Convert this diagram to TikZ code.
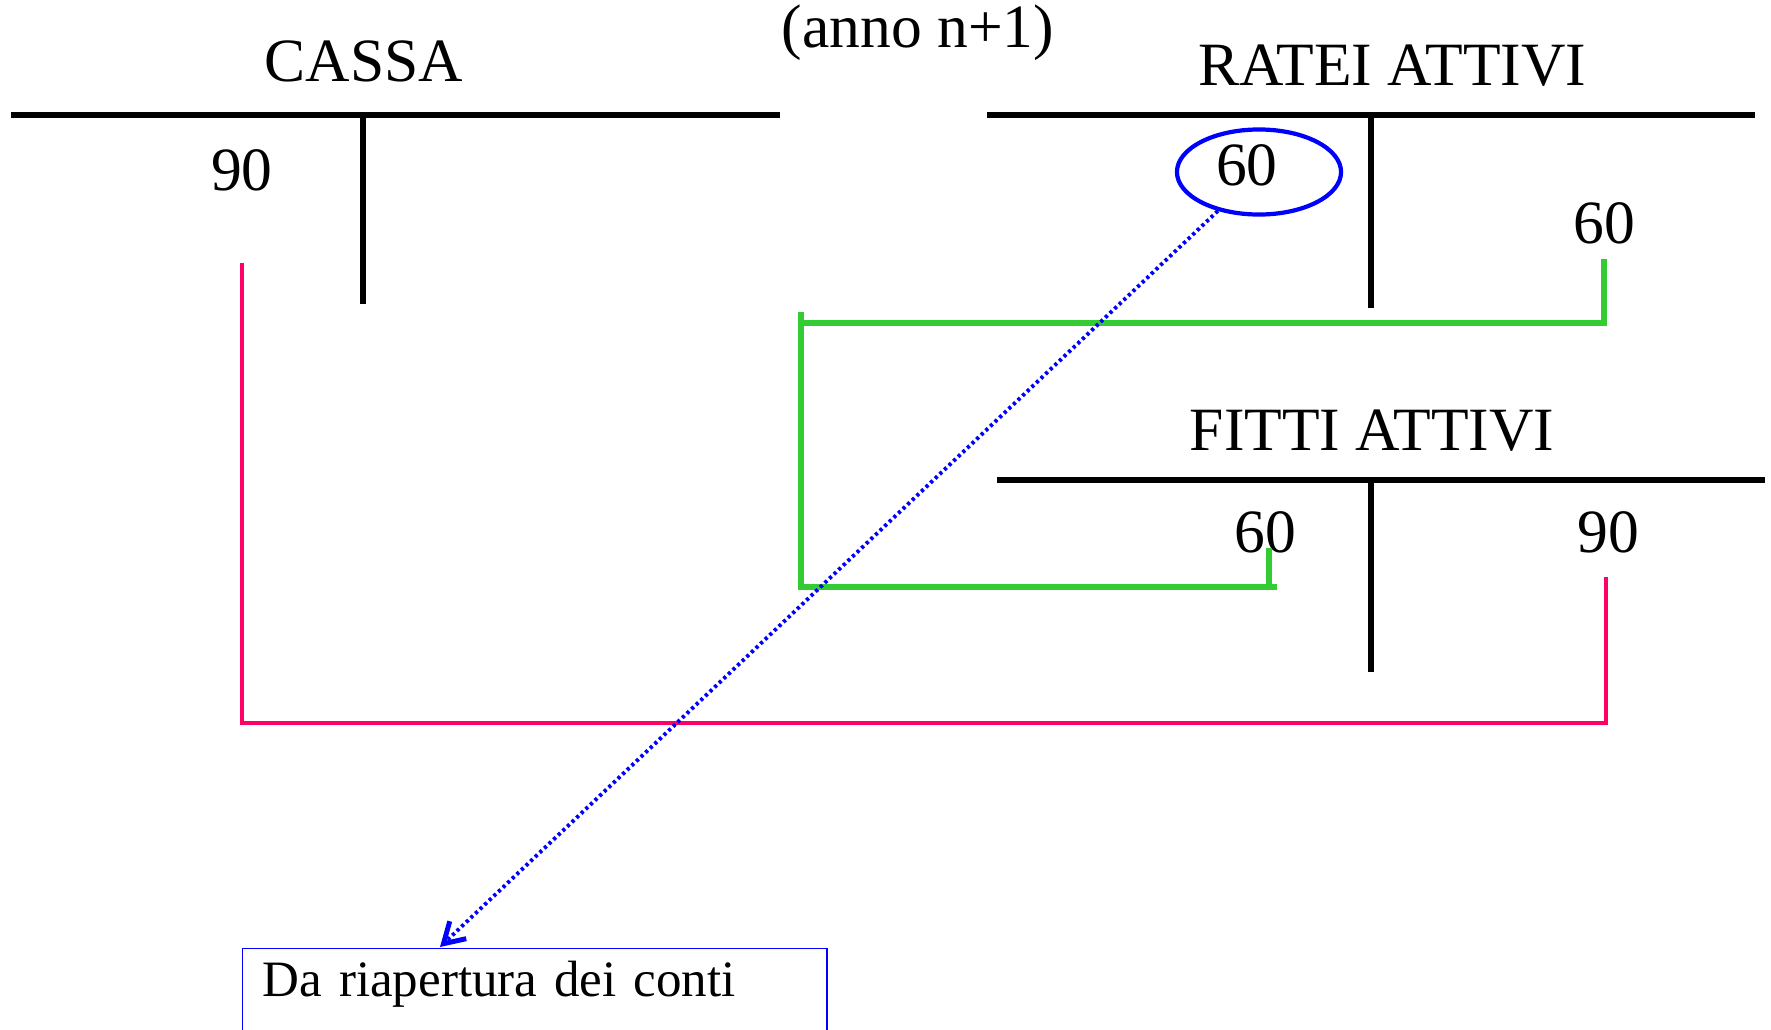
\documentclass[tikz,border=0pt]{standalone}
\usepackage{fontspec}
\setmainfont{Liberation Serif}
\usetikzlibrary{shapes.geometric,arrows.meta}
\definecolor{redline}{RGB}{255,0,102}
\definecolor{greenline}{RGB}{51,204,51}
\begin{document}
\begin{tikzpicture}[x=0.01cm,y=-0.01cm,
  acct/.style={line width=1.5pt,black},
  lbl/.style={font=\fontsize{17.5}{20}\selectfont, inner sep=0pt, anchor=base},
  gline/.style={line width=1.5pt, greenline},
  rline/.style={line width=1.4pt, redline},
  circ/.style={ellipse, draw=blue, line width=1.2pt, minimum width=1.64cm, minimum height=0.85cm, inner sep=0pt, font=\fontsize{17.5}{20}\selectfont},
  bluearrow/.style={blue, line width=1.1pt, dash pattern=on 0.9pt off 0.9pt, -{Straight Barb[length=0.2cm,width=0.24cm,line width=1.4pt]}},
  notebox/.style={draw=blue, line width=0.4pt, anchor=north west, inner xsep=0.2cm, inner ysep=0.12cm, text width=5.44cm, align=left, font=\fontsize{14.5}{17}\selectfont}
]
\useasboundingbox (0,0) rectangle (1771,1030);

% titles
\node[lbl] (cassa) at (364,81) {CASSA};
\node[lbl] (anno) at (918,47) {(anno n+1)};
\node[lbl] (ratei) at (1392,85) {RATEI ATTIVI};
\node[lbl] (fitti) at (1372,450) {FITTI ATTIVI};

% T accounts
\draw[acct] (11,115) -- (780,115);
\draw[acct] (363,115) -- (363,304);
\draw[acct] (987,115) -- (1755,115);
\draw[acct] (1371,115) -- (1371,308);
\draw[acct] (997,480) -- (1765,480);
\draw[acct] (1371,480) -- (1371,672);

% amounts
\node[lbl] (c90) at (242,190) {90};
\node[circ] (r60a) at (1259,172) {\hspace*{-0.24cm}\raisebox{0.14cm}{60}};
\node[lbl] (r60b) at (1604,243) {60};
\node[lbl] (f60) at (1265,552) {60};
\node[lbl] (f90) at (1608,552) {90};

% green connector
\coordinate (g1) at (1604,259);
\coordinate (g2) at (1604,323);
\coordinate (g3) at (801,323);
\coordinate (g4) at (801,312);
\coordinate (g5) at (801,587);
\coordinate (g6) at (1277,587);
\coordinate (g7) at (1269,548);
\coordinate (g8) at (1269,587);
\draw[gline] (g1) -- (g2) -- (g3);
\draw[gline] (g4) -- (g5) -- (g6);
\draw[gline] (g7) -- (g8);

% red connector
\coordinate (r1) at (242,263);
\coordinate (r2) at (242,723);
\coordinate (r3) at (1606,723);
\coordinate (r4) at (1606,577);
\draw[rline] (r1) -- (r2) -- (r3) -- (r4);

% note box
\node[notebox] (box) at (242,948) {\rule[-1.2cm]{0pt}{0pt}Da riapertura dei conti};
\coordinate (tip) at (440,947);
\draw[bluearrow] (r60a) -- (tip);
\end{tikzpicture}
\end{document}
